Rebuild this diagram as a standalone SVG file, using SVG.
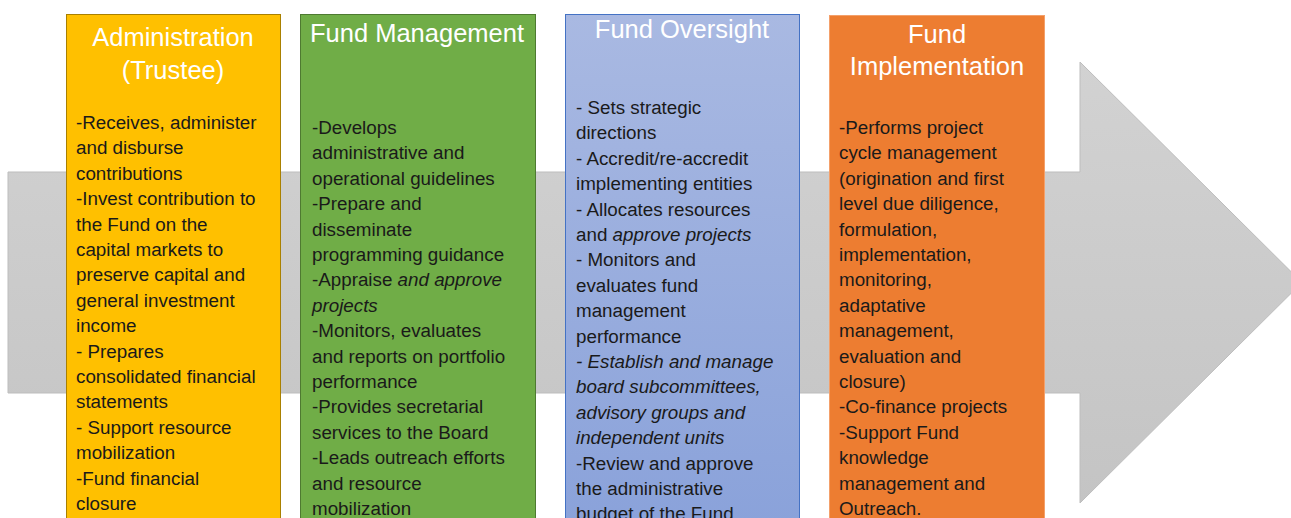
<svg xmlns="http://www.w3.org/2000/svg" width="1291" height="518" viewBox="0 0 1291 518">
  <defs>
    <linearGradient id="arrowFill" x1="0" y1="0" x2="0" y2="1">
      <stop offset="0" stop-color="#d2d2d2"/>
      <stop offset="1" stop-color="#c4c4c4"/>
    </linearGradient>
    <linearGradient id="blueFill" x1="0" y1="0" x2="0" y2="1">
      <stop offset="0" stop-color="#a9b9e2"/>
      <stop offset="1" stop-color="#8aa2da"/>
    </linearGradient>
    <style>
      .title { font-family: "Liberation Sans", Arial, sans-serif; font-size: 25.5px; fill: #ffffff; text-anchor: middle; }
      .body { font-family: "Liberation Sans", Arial, sans-serif; font-size: 18.8px; fill: #1a1a1a; }
      .it { font-style: italic; }
    </style>
  </defs>

  <!-- background process arrow -->
  <path d="M8,172 H1080 V62 L1302,282.5 L1080,503 V393 H8 Z" fill="url(#arrowFill)" stroke="#bdbdbd" stroke-width="1"/>

  <g id="administration">
    <rect x="66.5" y="14.5" width="214" height="510" fill="#ffc000" stroke="#a98000" stroke-width="1"/>
    <text class="title" x="173" y="46">Administration</text>
    <text class="title" x="173" y="79">(Trustee)</text>
    <text class="body" x="76" y="129">
      <tspan x="76">-Receives, administer</tspan>
      <tspan x="76" dy="25.4">and disburse</tspan>
      <tspan x="76" dy="25.4">contributions</tspan>
      <tspan x="76" dy="25.4">-Invest contribution to</tspan>
      <tspan x="76" dy="25.4">the Fund on the</tspan>
      <tspan x="76" dy="25.4">capital markets to</tspan>
      <tspan x="76" dy="25.4">preserve capital and</tspan>
      <tspan x="76" dy="25.4">general investment</tspan>
      <tspan x="76" dy="25.4">income</tspan>
      <tspan x="76" dy="25.4">- Prepares</tspan>
      <tspan x="76" dy="25.4">consolidated financial</tspan>
      <tspan x="76" dy="25.4">statements</tspan>
      <tspan x="76" dy="25.4">- Support resource</tspan>
      <tspan x="76" dy="25.4">mobilization</tspan>
      <tspan x="76" dy="25.4">-Fund financial</tspan>
      <tspan x="76" dy="25.4">closure</tspan>
    </text>
  </g>

  <g id="fund-management">
    <rect x="300.5" y="14.5" width="235" height="510" fill="#70ad47" stroke="#4e7a31" stroke-width="1"/>
    <text class="title" x="417" y="42">Fund Management</text>
    <text class="body" x="312" y="134">
      <tspan x="312">-Develops</tspan>
      <tspan x="312" dy="25.4">administrative and</tspan>
      <tspan x="312" dy="25.4">operational guidelines</tspan>
      <tspan x="312" dy="25.4">-Prepare and</tspan>
      <tspan x="312" dy="25.4">disseminate</tspan>
      <tspan x="312" dy="25.4">programming guidance</tspan>
      <tspan x="312" dy="25.4">-Appraise <tspan class="it">and approve</tspan></tspan>
      <tspan x="312" dy="25.4" class="it">projects</tspan>
      <tspan x="312" dy="25.4">-Monitors, evaluates</tspan>
      <tspan x="312" dy="25.4">and reports on portfolio</tspan>
      <tspan x="312" dy="25.4">performance</tspan>
      <tspan x="312" dy="25.4">-Provides secretarial</tspan>
      <tspan x="312" dy="25.4">services to the Board</tspan>
      <tspan x="312" dy="25.4">-Leads outreach efforts</tspan>
      <tspan x="312" dy="25.4">and resource</tspan>
      <tspan x="312" dy="25.4">mobilization</tspan>
    </text>
  </g>

  <g id="fund-oversight">
    <rect x="565.5" y="14.5" width="234" height="510" fill="url(#blueFill)" stroke="#4472c4" stroke-width="1"/>
    <text class="title" x="682" y="38">Fund Oversight</text>
    <text class="body" x="576" y="114">
      <tspan x="576">- Sets strategic</tspan>
      <tspan x="576" dy="25.4">directions</tspan>
      <tspan x="576" dy="25.4">- Accredit/re-accredit</tspan>
      <tspan x="576" dy="25.4">implementing entities</tspan>
      <tspan x="576" dy="25.4">- Allocates resources</tspan>
      <tspan x="576" dy="25.4">and <tspan class="it">approve projects</tspan></tspan>
      <tspan x="576" dy="25.4">- Monitors and</tspan>
      <tspan x="576" dy="25.4">evaluates fund</tspan>
      <tspan x="576" dy="25.4">management</tspan>
      <tspan x="576" dy="25.4">performance</tspan>
      <tspan x="576" dy="25.4" class="it">- Establish and manage</tspan>
      <tspan x="576" dy="25.4" class="it">board subcommittees,</tspan>
      <tspan x="576" dy="25.4" class="it">advisory groups and</tspan>
      <tspan x="576" dy="25.4" class="it">independent units</tspan>
      <tspan x="576" dy="25.4">-Review and approve</tspan>
      <tspan x="576" dy="25.4">the administrative</tspan>
      <tspan x="576" dy="25.4">budget of the Fund</tspan>
    </text>
  </g>

  <g id="fund-implementation">
    <rect x="829.5" y="15.5" width="215" height="510" fill="#ed7d31" stroke="#f4a06a" stroke-width="1"/>
    <text class="title" x="937" y="43">Fund</text>
    <text class="title" x="937" y="75">Implementation</text>
    <text class="body" x="839" y="134">
      <tspan x="839">-Performs project</tspan>
      <tspan x="839" dy="25.4">cycle management</tspan>
      <tspan x="839" dy="25.4">(origination and first</tspan>
      <tspan x="839" dy="25.4">level due diligence,</tspan>
      <tspan x="839" dy="25.4">formulation,</tspan>
      <tspan x="839" dy="25.4">implementation,</tspan>
      <tspan x="839" dy="25.4">monitoring,</tspan>
      <tspan x="839" dy="25.4">adaptative</tspan>
      <tspan x="839" dy="25.4">management,</tspan>
      <tspan x="839" dy="25.4">evaluation and</tspan>
      <tspan x="839" dy="25.4">closure)</tspan>
      <tspan x="839" dy="25.4">-Co-finance projects</tspan>
      <tspan x="839" dy="25.4">-Support Fund</tspan>
      <tspan x="839" dy="25.4">knowledge</tspan>
      <tspan x="839" dy="25.4">management and</tspan>
      <tspan x="839" dy="25.4">Outreach.</tspan>
    </text>
  </g>
</svg>
